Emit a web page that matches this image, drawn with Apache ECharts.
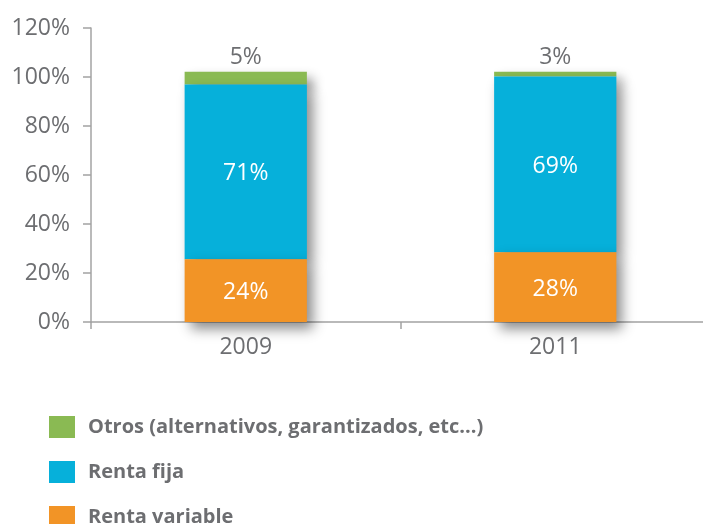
<!DOCTYPE html>
<html>
<head>
<meta charset="utf-8">
<script src="https://cdn.jsdelivr.net/npm/echarts@6/dist/echarts.min.js"></script>
<style>
  html, body { margin: 0; padding: 0; background: #fff; overflow: hidden; }
  #main { width: 711px; height: 524px; }
</style>
</head>
<body>
<div id="main"></div>
<script>
// datos
var years = ["2009", "2011"];
var rentaVariable = [25.6, 28.5];   // alturas
var rentaFija = [71.3, 71.7];
var otros = [5.2, 1.9];
var labelVariable = ["24%", "28%"]; // textos impresos
var labelFija = ["71%", "69%"];
var labelOtros = ["5%", "3%"];

var gris = "#6d6e71";
var sombra = {
  shadowColor: "rgba(0,0,0,0.45)",
  shadowBlur: 12,
  shadowOffsetX: 6,
  shadowOffsetY: 7,
};

var myChart = echarts.init(document.getElementById("main"));
var option = {
  animation: false,
  textStyle: { fontFamily: "Open Sans" },
  color: ["#f29426", "#06b0da", "#8aba53"],
  grid: {
    left: 91,
    right: 1,
    top: 28,
    bottom: 202,
  },
  legend: {
    orient: "vertical",
    left: 44,
    top: 411,
    height: 200,
    itemWidth: 26,
    itemHeight: 22,
    itemGap: 23,
    icon: "rect",
    data: ["Otros (alternativos, garantizados, etc...)", "Renta fija", "Renta variable"],
    textStyle: {
      color: gris,
      fontSize: 20,
      fontWeight: "bold",
      padding: [0, 0, 0, 8],
    },
  },
  xAxis: {
    type: "category",
    data: years,
    axisLine: { lineStyle: { color: "#a3a3a3", width: 1.5 } },
    axisTick: { show: true, length: 7, lineStyle: { color: "#a3a3a3", width: 1.5 } },
    axisLabel: { color: gris, fontSize: 23, margin: 14 },
  },
  yAxis: {
    type: "value",
    min: 0,
    max: 120,
    interval: 20,
    splitLine: { show: false },
    axisLine: { show: true, lineStyle: { color: "#a3a3a3", width: 1.5 } },
    axisTick: { show: true, length: 8, lineStyle: { color: "#a3a3a3", width: 1.5 } },
    axisLabel: { color: gris, fontSize: 23, margin: 21, formatter: "{value}%" },
  },
  series: [
    {
      name: "Renta variable",
      type: "bar",
      stack: "total",
      barWidth: "39.5%",
      z: 4,
      data: rentaVariable,
      itemStyle: sombra,
      label: {
        show: true,
        position: "inside",
        offset: [0, 2],
        color: "#fff",
        fontSize: 23,
        formatter: function (p) { return labelVariable[p.dataIndex]; },
      },
    },
    {
      name: "Renta fija",
      type: "bar",
      stack: "total",
      z: 3,
      data: rentaFija,
      itemStyle: sombra,
      label: {
        show: true,
        position: "inside",
        offset: [0, 2],
        color: "#fff",
        fontSize: 23,
        formatter: function (p) { return labelFija[p.dataIndex]; },
      },
    },
    {
      name: "Otros (alternativos, garantizados, etc...)",
      type: "bar",
      stack: "total",
      z: 2,
      data: otros,
      itemStyle: sombra,
      label: {
        show: true,
        position: "top",
        distance: 3,
        color: gris,
        fontSize: 23,
        formatter: function (p) { return labelOtros[p.dataIndex]; },
      },
    },
  ],
};
myChart.setOption(option);
</script>
</body>
</html>
